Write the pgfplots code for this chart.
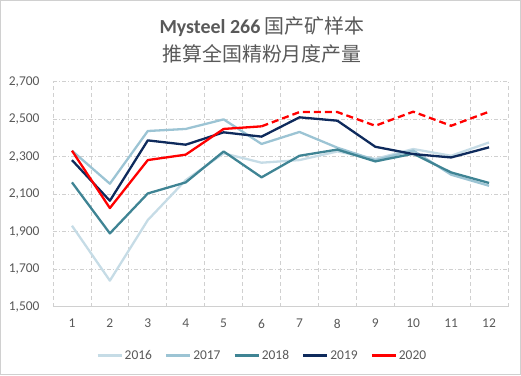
\documentclass[border=0pt]{standalone}
\usepackage{fontspec}
\setmainfont{Carlito}
\newfontfamily\cjk{Noto Sans CJK SC}
\usepackage{pgfplots}
\pgfplotsset{compat=1.18}
\definecolor{c16}{HTML}{C6DCE6}
\definecolor{c17}{HTML}{9CC4D4}
\definecolor{c18}{HTML}{3F8494}
\definecolor{c19}{HTML}{0E2A5C}
\definecolor{c20}{HTML}{FF0000}
\definecolor{txt}{HTML}{595959}
\definecolor{gridc}{HTML}{D0D0D0}
\begin{document}
\begin{tikzpicture}[x=1bp,y=1bp]
\useasboundingbox (0,0) rectangle (521,375);
\draw[gridc, line width=0.8bp] (0.5,0.5) rectangle (520.5,374.5);
\node[txt, font=\fontsize{20}{24}\selectfont] at (262,348) {\textbf{Mysteel 266} {\cjk 国产矿样本}};
\node[txt, font=\fontsize{20}{24}\selectfont\cjk] at (262,321) {推算全国精粉月度产量};
\begin{axis}[
  at={(53bp,68.3bp)}, anchor=south west,
  scale only axis, width=455bp, height=225bp,
  xmin=0.5, xmax=12.5, ymin=1500, ymax=2700,
  xtick={1,...,12}, minor xtick={0.5,1.5,...,12.5},
  ytick={1500,1700,...,2700},
  xticklabel={\pgfmathprintnumber[assume math mode=true]{\tick}},
  yticklabel={\pgfmathprintnumber[assume math mode=true,1000 sep={,}]{\tick}},
  tick label style={txt, font=\fontsize{13.5}{15}\selectfont},
  xticklabel style={yshift=-9bp},
  yticklabel style={xshift=-10bp},
  major tick length=0pt, minor tick length=0pt,
  axis x line*=bottom, axis y line*=left,
  x axis line style={gridc, line width=0.8bp, -},
  y axis line style={draw=none, -},
  ymajorgrids, xminorgrids,
  major grid style={gridc, dash pattern=on 4bp off 2bp on 1bp off 2bp, line width=0.7bp},
  minor grid style={gridc, dash pattern=on 4bp off 3bp, line width=0.7bp},
  legend style={at={(0.46,-0.175)}, anchor=north, draw=none, fill=none,
    legend columns=5, font=\fontsize{13.5}{15}\selectfont, text=txt,
    /tikz/every even column/.append style={column sep=11bp}},
  legend image code/.code={\draw[#1, line cap=butt] (0bp,0bp) -- (24bp,0bp);},
  every axis plot/.append style={line width=2.3bp, line join=round},
]
\addplot[c16, mark=none] coordinates {(1,1932) (2,1639) (3,1962) (4,2175) (5,2318) (6,2268) (7,2282) (8,2328) (9,2288) (10,2341) (11,2305) (12,2376)};
\addlegendentry{2016}
\addplot[c17, mark=none] coordinates {(1,2332) (2,2156) (3,2437) (4,2448) (5,2499) (6,2368) (7,2432) (8,2348) (9,2282) (10,2333) (11,2204) (12,2145)};
\addlegendentry{2017}
\addplot[c18, mark=none] coordinates {(1,2163) (2,1891) (3,2104) (4,2163) (5,2328) (6,2190) (7,2305) (8,2338) (9,2275) (10,2316) (11,2216) (12,2160)};
\addlegendentry{2018}
\addplot[c19, mark=none] coordinates {(1,2282) (2,2065) (3,2387) (4,2364) (5,2430) (6,2407) (7,2510) (8,2492) (9,2353) (10,2314) (11,2296) (12,2350)};
\addlegendentry{2019}
\addplot[c20, mark=none] coordinates {(1,2332) (2,2026) (3,2282) (4,2311) (5,2448) (6,2462)};
\addlegendentry{2020}
\addplot[c20, mark=none, dashed, dash pattern=on 7bp off 4bp, forget plot] coordinates {(6,2462) (7,2538) (8,2538) (9,2465) (10,2540) (11,2465) (12,2540)};
\end{axis}
\end{tikzpicture}
\end{document}
